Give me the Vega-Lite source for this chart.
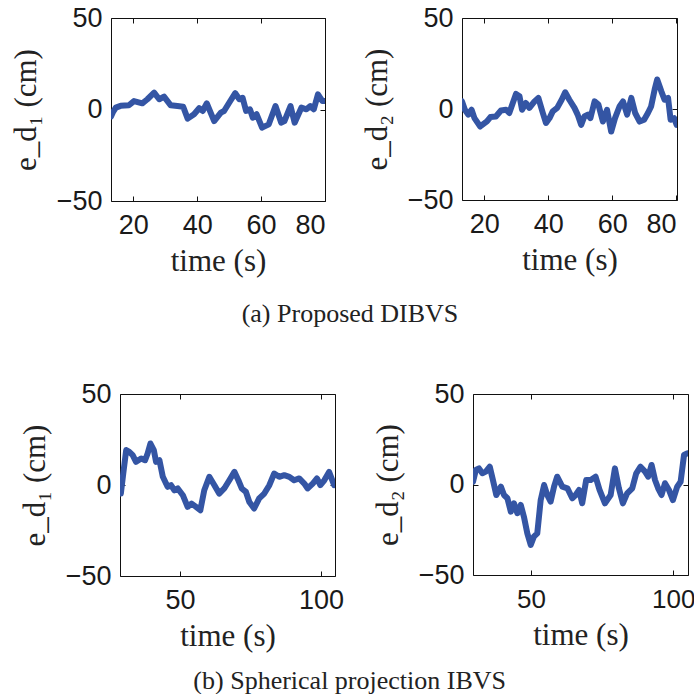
{
  "$schema": "https://vega.github.io/schema/vega-lite/v6.json",
  "background": "white",
  "padding": {"left": 8, "top": 3, "right": 0, "bottom": 0},
  "autosize": {"type": "pad"},
  "config": {
    "view": {"stroke": "#111", "strokeWidth": 1},
    "axis": {
      "domain": false,
      "grid": false,
      "tickSize": -5,
      "tickColor": "#111",
      "tickWidth": 1,
      "labelFont": "Liberation Sans",
      "labelFontSize": 27,
      "labelColor": "#1a1a1a",
      "titleFont": "Liberation Serif",
      "titleFontSize": 31,
      "titleFontWeight": "normal",
      "titleColor": "#222"
    },
    "axisX": {"labelPadding": 16, "titlePadding": 8},
    "axisY": {"labelPadding": 14, "titlePadding": 14},
    "title": {"font": "Liberation Serif", "fontSize": 26, "fontWeight": "normal", "color": "#222", "anchor": "middle"}
  },
  "datasets": {
    "none": [],
    "a1": [
      {"t": 13.0, "v": -3.8}, {"t": 13.6, "v": -1.5}, {"t": 14.5, "v": 1.0}, {"t": 16.0, "v": 2.0}, {"t": 18.6, "v": 2.3},
      {"t": 20.2, "v": 4.6}, {"t": 22.8, "v": 3.4}, {"t": 24.4, "v": 5.6}, {"t": 26.5, "v": 9.2}, {"t": 28.1, "v": 5.6},
      {"t": 29.6, "v": 7.0}, {"t": 31.7, "v": 2.3}, {"t": 33.8, "v": 1.9}, {"t": 35.6, "v": 1.5}, {"t": 37.0, "v": -5.0},
      {"t": 39.0, "v": -2.6}, {"t": 40.6, "v": 0.7}, {"t": 41.7, "v": -0.8}, {"t": 43.0, "v": 3.4}, {"t": 45.3, "v": -6.3},
      {"t": 47.4, "v": -1.7}, {"t": 48.4, "v": -0.8}, {"t": 50.0, "v": 3.7}, {"t": 51.9, "v": 8.9}, {"t": 53.2, "v": 5.6},
      {"t": 54.2, "v": 6.4}, {"t": 55.3, "v": -0.8}, {"t": 56.5, "v": 0.1}, {"t": 57.4, "v": -4.5}, {"t": 58.6, "v": -2.6},
      {"t": 60.3, "v": -9.9}, {"t": 62.4, "v": -8.1}, {"t": 64.5, "v": 1.9}, {"t": 66.3, "v": -7.2}, {"t": 67.3, "v": -6.3},
      {"t": 69.2, "v": 1.9}, {"t": 70.5, "v": -7.2}, {"t": 72.6, "v": 1.0}, {"t": 74.2, "v": 0.1}, {"t": 75.4, "v": 1.9},
      {"t": 76.5, "v": 0.1}, {"t": 77.8, "v": 8.3}, {"t": 79.2, "v": 4.6}, {"t": 80.0, "v": 4.6}
    ],
    "a2": [
      {"t": 13.0, "v": 4.2}, {"t": 13.9, "v": -0.4}, {"t": 15.0, "v": -3.1}, {"t": 16.0, "v": -0.4}, {"t": 16.9, "v": -5.0},
      {"t": 18.7, "v": -9.6}, {"t": 20.8, "v": -6.8}, {"t": 21.9, "v": -4.4}, {"t": 23.6, "v": -4.1}, {"t": 25.2, "v": -0.8},
      {"t": 26.8, "v": -0.4}, {"t": 27.8, "v": -2.2}, {"t": 28.9, "v": 3.3}, {"t": 29.9, "v": 8.3}, {"t": 31.0, "v": 7.0},
      {"t": 31.8, "v": -0.4}, {"t": 33.0, "v": 3.3}, {"t": 34.1, "v": 0.6}, {"t": 35.7, "v": 4.2}, {"t": 36.9, "v": 6.1},
      {"t": 38.3, "v": -2.2}, {"t": 39.3, "v": -7.7}, {"t": 40.4, "v": -5.0}, {"t": 41.4, "v": -1.3}, {"t": 42.8, "v": 0.6},
      {"t": 44.2, "v": 5.1}, {"t": 45.3, "v": 9.2}, {"t": 46.6, "v": 5.1}, {"t": 48.2, "v": 0.6}, {"t": 49.2, "v": -3.1},
      {"t": 50.3, "v": -8.7}, {"t": 51.3, "v": -4.1}, {"t": 52.4, "v": -3.1}, {"t": 53.2, "v": -5.0}, {"t": 54.5, "v": 4.2},
      {"t": 55.7, "v": 2.4}, {"t": 57.1, "v": -6.9}, {"t": 58.4, "v": -0.4}, {"t": 59.7, "v": -12.4}, {"t": 60.9, "v": -5.0},
      {"t": 62.3, "v": 1.4}, {"t": 63.4, "v": 4.2}, {"t": 64.7, "v": -3.1}, {"t": 66.0, "v": 6.1}, {"t": 67.2, "v": -2.2},
      {"t": 68.6, "v": -6.9}, {"t": 70.0, "v": -5.9}, {"t": 71.2, "v": -2.2}, {"t": 72.2, "v": 1.4}, {"t": 73.3, "v": 10.7},
      {"t": 74.1, "v": 16.2}, {"t": 75.4, "v": 9.7}, {"t": 76.4, "v": 5.1}, {"t": 77.5, "v": 6.1}, {"t": 78.3, "v": -5.9},
      {"t": 79.4, "v": -5.0}, {"t": 80.2, "v": -8.7}
    ],
    "b1": [
      {"t": 29.0, "v": -4.7}, {"t": 30.0, "v": 8.1}, {"t": 30.9, "v": 19.2}, {"t": 32.0, "v": 18.2}, {"t": 33.2, "v": 16.4},
      {"t": 34.4, "v": 12.7}, {"t": 36.2, "v": 14.6}, {"t": 37.6, "v": 13.6}, {"t": 38.5, "v": 17.3}, {"t": 39.5, "v": 22.8},
      {"t": 40.7, "v": 19.2}, {"t": 41.5, "v": 12.7}, {"t": 42.7, "v": 13.6}, {"t": 43.9, "v": 4.5}, {"t": 45.6, "v": -1.0},
      {"t": 46.8, "v": -0.1}, {"t": 48.0, "v": -2.9}, {"t": 49.2, "v": -1.9}, {"t": 51.0, "v": -5.6}, {"t": 52.7, "v": -12.0},
      {"t": 54.1, "v": -10.2}, {"t": 55.7, "v": -12.0}, {"t": 57.2, "v": -13.9}, {"t": 58.6, "v": -2.9}, {"t": 60.4, "v": 4.5},
      {"t": 62.2, "v": -0.1}, {"t": 63.9, "v": -4.7}, {"t": 65.7, "v": -1.9}, {"t": 67.5, "v": 2.6}, {"t": 69.3, "v": 7.2},
      {"t": 70.7, "v": 2.6}, {"t": 71.9, "v": -1.9}, {"t": 73.4, "v": -3.8}, {"t": 74.6, "v": -9.3}, {"t": 76.3, "v": -12.9},
      {"t": 78.1, "v": -7.4}, {"t": 79.9, "v": -4.7}, {"t": 81.7, "v": -0.1}, {"t": 83.4, "v": 6.3}, {"t": 85.2, "v": 4.5},
      {"t": 87.0, "v": 5.4}, {"t": 88.8, "v": 4.5}, {"t": 90.5, "v": 2.6}, {"t": 92.3, "v": 3.6}, {"t": 94.1, "v": 0.8},
      {"t": 95.3, "v": -1.9}, {"t": 97.1, "v": 0.8}, {"t": 98.6, "v": 3.6}, {"t": 99.8, "v": -0.1}, {"t": 101.2, "v": 2.6},
      {"t": 102.9, "v": 7.2}, {"t": 104.7, "v": -0.1}
    ],
    "b2": [
      {"t": 29.6, "v": 1.5}, {"t": 30.6, "v": 8.0}, {"t": 31.7, "v": 8.9}, {"t": 32.9, "v": 6.2}, {"t": 34.1, "v": 7.1},
      {"t": 35.5, "v": 9.8}, {"t": 36.6, "v": 2.5}, {"t": 37.8, "v": -5.8}, {"t": 39.4, "v": -1.2}, {"t": 40.5, "v": -5.8},
      {"t": 41.7, "v": -7.6}, {"t": 42.9, "v": -15.0}, {"t": 44.0, "v": -10.4}, {"t": 45.2, "v": -15.9}, {"t": 46.4, "v": -11.3},
      {"t": 47.5, "v": -17.8}, {"t": 48.7, "v": -27.0}, {"t": 49.9, "v": -33.4}, {"t": 51.0, "v": -28.8}, {"t": 52.2, "v": -27.0},
      {"t": 53.4, "v": -8.6}, {"t": 54.6, "v": -0.3}, {"t": 55.7, "v": -5.8}, {"t": 56.9, "v": -9.5}, {"t": 58.1, "v": -1.2},
      {"t": 59.2, "v": 4.3}, {"t": 61.0, "v": -1.2}, {"t": 62.8, "v": -2.1}, {"t": 64.5, "v": -7.6}, {"t": 65.7, "v": -5.8},
      {"t": 66.9, "v": -3.0}, {"t": 68.0, "v": -10.4}, {"t": 69.4, "v": 2.5}, {"t": 71.0, "v": 2.5}, {"t": 72.7, "v": 4.3},
      {"t": 74.1, "v": -3.0}, {"t": 76.0, "v": -10.4}, {"t": 78.0, "v": -5.8}, {"t": 79.5, "v": 8.9}, {"t": 80.9, "v": -2.1},
      {"t": 82.3, "v": -10.4}, {"t": 83.8, "v": -4.9}, {"t": 85.6, "v": -2.1}, {"t": 87.0, "v": 6.2}, {"t": 88.5, "v": 9.8},
      {"t": 90.1, "v": 7.1}, {"t": 91.2, "v": 4.3}, {"t": 92.4, "v": 10.8}, {"t": 93.6, "v": 2.5}, {"t": 94.7, "v": -2.1},
      {"t": 95.9, "v": -5.8}, {"t": 97.1, "v": 0.7}, {"t": 98.5, "v": -3.0}, {"t": 99.9, "v": -8.6}, {"t": 101.4, "v": -1.2},
      {"t": 102.6, "v": 1.5}, {"t": 103.8, "v": 16.3}, {"t": 104.9, "v": 17.2}
    ]
  },
  "spacing": 52,
  "vconcat": [
    {
      "title": {"text": "(a) Proposed DIBVS", "orient": "bottom", "offset": 24, "dx": 7},
      "spacing": 0,
      "hconcat": [
        {"width": 1, "height": 10, "view": {"stroke": null}, "data": {"name": "none"}, "mark": "point"},
        {
          "spacing": 34,
          "hconcat": [
            {
              "width": 214, "height": 183,
              "data": {"name": "a1"},
              "layer": [
                {"mark": {"type": "line", "color": "#3455a4", "strokeWidth": 6, "strokeCap": "round", "strokeJoin": "round", "clip": true},
                 "encoding": {
                   "x": {"field": "t", "type": "quantitative", "scale": {"domain": [13, 80], "nice": false, "zero": false}, "axis": {"values": [20, 40, 60, 80], "title": "time (s)"}},
                   "y": {"field": "v", "type": "quantitative", "scale": {"domain": [-50, 50], "nice": false}, "axis": {"values": [-50, 0, 50], "title": "e_d₁ (cm)"}}
                 }},
                {"mark": {"type": "line", "strokeOpacity": 0},
                 "encoding": {
                   "x": {"field": "t", "type": "quantitative", "axis": {"orient": "top", "values": [20, 40, 60, 80], "labels": false, "title": null}},
                   "y": {"field": "v", "type": "quantitative", "axis": {"orient": "right", "values": [-50, 0, 50], "labels": false, "title": null}}
                 }}
              ],
              "resolve": {"axis": {"x": "independent", "y": "independent"}}
            },
            {
              "width": 215, "height": 182,
              "data": {"name": "a2"},
              "layer": [
                {"mark": {"type": "line", "color": "#3455a4", "strokeWidth": 6, "strokeCap": "round", "strokeJoin": "round", "clip": true},
                 "encoding": {
                   "x": {"field": "t", "type": "quantitative", "scale": {"domain": [13, 80.3], "nice": false, "zero": false}, "axis": {"values": [20, 40, 60, 80], "title": "time (s)"}},
                   "y": {"field": "v", "type": "quantitative", "scale": {"domain": [-50, 50], "nice": false}, "axis": {"values": [-50, 0, 50], "title": "e_d₂ (cm)"}}
                 }},
                {"mark": {"type": "line", "strokeOpacity": 0},
                 "encoding": {
                   "x": {"field": "t", "type": "quantitative", "axis": {"orient": "top", "values": [20, 40, 60, 80], "labels": false, "title": null}},
                   "y": {"field": "v", "type": "quantitative", "axis": {"orient": "right", "values": [-50, 0, 50], "labels": false, "title": null}}
                 }}
              ],
              "resolve": {"axis": {"x": "independent", "y": "independent"}}
            }
          ]
        }
      ]
    },
    {
      "title": {"text": "(b) Spherical projection IBVS", "orient": "bottom", "offset": 16, "dx": -2},
      "spacing": 0,
      "hconcat": [
        {"width": 10, "height": 10, "view": {"stroke": null}, "data": {"name": "none"}, "mark": "point"},
        {
          "spacing": 27,
          "hconcat": [
            {
              "width": 215, "height": 182,
              "data": {"name": "b1"},
              "layer": [
                {"mark": {"type": "line", "color": "#3455a4", "strokeWidth": 6, "strokeCap": "round", "strokeJoin": "round", "clip": true},
                 "encoding": {
                   "x": {"field": "t", "type": "quantitative", "scale": {"domain": [28.7, 105], "nice": false, "zero": false}, "axis": {"values": [50, 100], "title": "time (s)"}},
                   "y": {"field": "v", "type": "quantitative", "scale": {"domain": [-50, 50], "nice": false}, "axis": {"values": [-50, 0, 50], "title": "e_d₁ (cm)"}}
                 }},
                {"mark": {"type": "line", "strokeOpacity": 0},
                 "encoding": {
                   "x": {"field": "t", "type": "quantitative", "axis": {"orient": "top", "values": [50, 100], "labels": false, "title": null}},
                   "y": {"field": "v", "type": "quantitative", "axis": {"orient": "right", "values": [-50, 0, 50], "labels": false, "title": null}}
                 }}
              ],
              "resolve": {"axis": {"x": "independent", "y": "independent"}}
            },
            {
              "width": 215, "height": 181,
              "data": {"name": "b2"},
              "layer": [
                {"mark": {"type": "line", "color": "#3455a4", "strokeWidth": 6, "strokeCap": "round", "strokeJoin": "round", "clip": true},
                 "encoding": {
                   "x": {"field": "t", "type": "quantitative", "scale": {"domain": [29.6, 105.2], "nice": false, "zero": false}, "axis": {"values": [50, 100], "title": "time (s)", "labelFontSize": 26}},
                   "y": {"field": "v", "type": "quantitative", "scale": {"domain": [-50, 50], "nice": false}, "axis": {"values": [-50, 0, 50], "title": "e_d₂ (cm)"}}
                 }},
                {"mark": {"type": "line", "strokeOpacity": 0},
                 "encoding": {
                   "x": {"field": "t", "type": "quantitative", "axis": {"orient": "top", "values": [50, 100], "labels": false, "title": null}},
                   "y": {"field": "v", "type": "quantitative", "axis": {"orient": "right", "values": [-50, 0, 50], "labels": false, "title": null}}
                 }}
              ],
              "resolve": {"axis": {"x": "independent", "y": "independent"}}
            }
          ]
        }
      ]
    }
  ]
}
